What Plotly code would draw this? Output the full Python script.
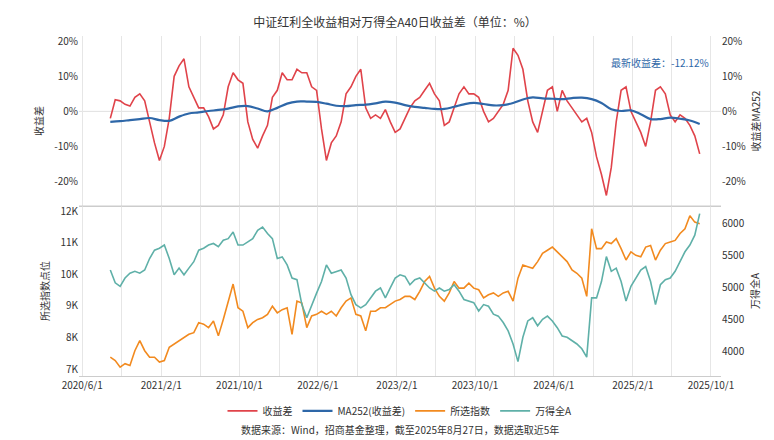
import pandas as pd
import plotly.graph_objects as go

# half-month sample dates, 2020/8/27 .. 2025/8/27
dates = pd.date_range("2020-08-27", "2025-08-27", periods=121)
ma_dates = pd.date_range("2020-08-27", "2025-08-27", periods=61)

spread = [
    -2, 3.3, 3, 2, 1.5, 4, 5, 3, -3, -9, -14, -10, -2, 10, 13, 15, 7, 4, 1, 1,
    -1.5, -5, -4, -1, 7, 11, 9, 8, -3, -8, -10.5, -7, -4, 4, 6, 11, 9, 9, 12, 11,
    11, 7, 6, -5, -14, -9, -7, -3, 5, 7, 10, 12, 1, -2, -1, -2, 0.5, -3, -6, -5,
    -2, 1, 3, 4, 6, 8, 5, 3, -4, -3, 1, 5, 7, 5, 5, 4, 0, -3, -2, 0,
    2, 6, 18, 16, 12, 3, -3, -6, 0, 6, 7, 0, 6, 3, 1, -1, -3, -2, -6, -13,
    -18, -24, -16, -3, 6, 7, 0, -3, -6, -10, -3, 6, 7, 5, -1, -3, -1, -2, -4, -7,
    -12.12,
]

ma252 = [
    -3.0, -2.8, -2.5, -2.2, -1.9, -2.5, -2.7, -1.5, -0.6, -0.3, 0.1, 0.4, 0.8, 1.4, 1.5, 0.8,
    0.0, 1.0, 2.2, 2.8, 2.8, 2.7, 2.2, 1.6, 1.5, 1.8, 1.9, 2.3, 2.8, 2.5, 1.8, 1.3,
    1.0, 0.7, 0.7, 1.3, 2.0, 2.4, 2.1, 1.7, 1.8, 2.4, 3.4, 4.0, 3.7, 3.6, 3.5, 3.8,
    3.9, 3.5, 2.4, 0.6, 0.1, 0.3, -0.8, -2.2, -2.2, -1.8, -2.1, -2.6, -3.6,
]

index_sel = [
    7375, 7270, 7060, 7170, 7110, 7580, 7900, 7580, 7375, 7375, 7220, 7270, 7690, 7790, 7900, 8000,
    8100, 8150, 8470, 8420, 8310, 8520, 8050, 8570, 9150, 9690, 8940, 8830, 8310, 8470, 8570, 8625,
    8730, 8990, 8780, 8880, 8940, 8100, 9150, 9090, 8310, 8680, 8730, 8830, 8730, 8830, 8680, 8940,
    9150, 9250, 8730, 8680, 8210, 8830, 8830, 8940, 8940, 9040, 9150, 9200, 9300, 9300, 9200, 9460,
    9770, 9930, 9560, 9300, 9150, 9410, 9770, 9560, 9560, 9720, 9560, 9510, 9250, 9350, 9410, 9300,
    9410, 9460, 9150, 9875, 10290, 10240, 10190, 10400, 10660, 10760, 10860, 10710, 10550, 10400, 10135, 10030,
    9875, 9300, 11440, 10810, 10810, 11020, 10970, 11125, 10810, 10450, 10710, 10600, 10550, 10860, 10910, 10450,
    10760, 10970, 11020, 11070, 11290, 11440, 11850, 11650, 11600,
]

wind_a = [
    5280, 5080, 5025, 5155, 5230, 5260, 5230, 5280, 5460, 5590, 5620, 5670, 5460, 5205, 5310, 5205,
    5310, 5410, 5590, 5620, 5670, 5695, 5645, 5745, 5770, 5875, 5670, 5670, 5720, 5770, 5900, 5950,
    5850, 5770, 5460, 5485, 5360, 5155, 5130, 4740, 4535, 4740, 4920, 5100, 5360, 5230, 5260, 5280,
    5155, 4895, 4740, 4690, 4740, 4845, 4950, 5000, 4845, 5000, 5155, 5205, 5180, 5050, 5130, 5155,
    5080, 5000, 4950, 5000, 4950, 4975, 5050, 4950, 4820, 4795, 4770, 4640, 4740, 4715, 4590, 4560,
    4460, 4330, 4125, 3850, 4230, 4485, 4535, 4410, 4510, 4560, 4485, 4380, 4250, 4230, 4175, 4125,
    4050, 3920, 4845, 4845, 5100, 5490, 5260, 5310, 5100, 4795, 5025, 5155, 5280, 5335, 5100, 4740,
    5050, 5130, 5155, 5260, 5410, 5565, 5670, 5825, 6160,
]

tick_vals = ["2020-06-01", "2021-02-01", "2021-10-01", "2022-06-01", "2023-02-01",
             "2023-10-01", "2024-06-01", "2025-02-01", "2025-10-01"]
pct_vals = [-20, -10, 0, 10, 20]
pct_text = ["-20%", "-10%", "0%", "10%", "20%"]

RED, BLUE, ORANGE, TEAL = "#e0434a", "#2e67a8", "#f28a1f", "#5fb0a8"
FONT = "Noto Sans CJK SC"

fig = go.Figure()
fig.add_trace(go.Scatter(x=dates, y=spread, name="收益差", mode="lines",
                         line=dict(color=RED, width=1.6), xaxis="x", yaxis="y"))
fig.add_trace(go.Scatter(x=ma_dates, y=ma252, name="MA252(收益差)", mode="lines",
                         line=dict(color=BLUE, width=2.2, shape="spline"), xaxis="x", yaxis="y2"))
fig.add_trace(go.Scatter(x=dates, y=index_sel, name="所选指数", mode="lines",
                         line=dict(color=ORANGE, width=1.6), xaxis="x2", yaxis="y3"))
fig.add_trace(go.Scatter(x=dates, y=wind_a, name="万得全A", mode="lines",
                         line=dict(color=TEAL, width=1.6), xaxis="x2", yaxis="y4"))

xcommon = dict(type="date", range=["2020-05-22", "2025-11-01"], tickvals=tick_vals,
               tickformat="%Y/%-m/%-d", showgrid=True, gridcolor="#e6e6e6",
               minor=dict(dtick="M4", tick0="2020-06-01", showgrid=True, gridcolor="#e6e6e6"),
               tickfont=dict(size=10, color="#333"), showline=True, linecolor="#cccccc")

pct = dict(range=[-27, 21.5], tickvals=pct_vals, ticktext=pct_text,
           tickfont=dict(size=10, color="#333"), showgrid=False, zeroline=False)

fig.update_layout(
    width=774, height=440,
    margin=dict(l=71, r=61, t=28, b=72, autoexpand=False),
    paper_bgcolor="white", plot_bgcolor="white",
    font=dict(family=FONT, color="#333"),
    title=dict(text="中证红利全收益相对万得全A40日收益差（单位：%）", x=0.5, y=0.975,
               xanchor="center", font=dict(size=12, color="#333")),
    xaxis=dict(xcommon, domain=[0, 1], anchor="y", showticklabels=False),
    xaxis2=dict(xcommon, domain=[0, 1], anchor="y3"),
    yaxis=dict(pct, domain=[0.5, 1], anchor="x",
               title=dict(text="收益差", font=dict(size=10), standoff=8)),
    yaxis2=dict(pct, overlaying="y", side="right", anchor="x",
                title=dict(text="收益差MA252", font=dict(size=10), standoff=8)),
    yaxis3=dict(domain=[0, 0.5], anchor="x2", range=[6780, 12160],
                tickvals=[7000, 8000, 9000, 10000, 11000, 12000],
                ticktext=["7K", "8K", "9K", "10K", "11K", "12K"],
                tickfont=dict(size=10, color="#333"), showgrid=False, zeroline=False,
                title=dict(text="所选指数点位", font=dict(size=10), standoff=8)),
    yaxis4=dict(overlaying="y3", side="right", anchor="x2", range=[3625, 6280],
                tickvals=[4000, 4500, 5000, 5500, 6000],
                tickfont=dict(size=10, color="#333"), showgrid=False, zeroline=False,
                title=dict(text="万得全A", font=dict(size=10), standoff=8)),
    legend=dict(orientation="h", x=0.5, xanchor="center", y=-0.06, yanchor="top",
                font=dict(size=10), itemwidth=30, tracegroupgap=0),
    showlegend=True,
)

# zero line on the top panel and separator between panels
fig.add_hline(y=0, line=dict(color="#e0e0e0", width=1), xref="x", yref="y", layer="below")
fig.add_shape(type="line", xref="paper", yref="paper", x0=0, x1=1, y0=0.5, y1=0.5,
              line=dict(color="#cccccc", width=1))

fig.add_annotation(text="最新收益差：-12.12%", xref="paper", yref="paper", x=0.985, y=0.95,
                   xanchor="right", showarrow=False, font=dict(size=10, color=BLUE))
fig.add_annotation(text="数据来源：Wind，招商基金整理，截至2025年8月27日，数据选取近5年",
                   xref="paper", yref="paper", x=0.5, y=-0.13, yanchor="top",
                   showarrow=False, font=dict(size=10, color="#333"))

fig.write_html("out.html")
